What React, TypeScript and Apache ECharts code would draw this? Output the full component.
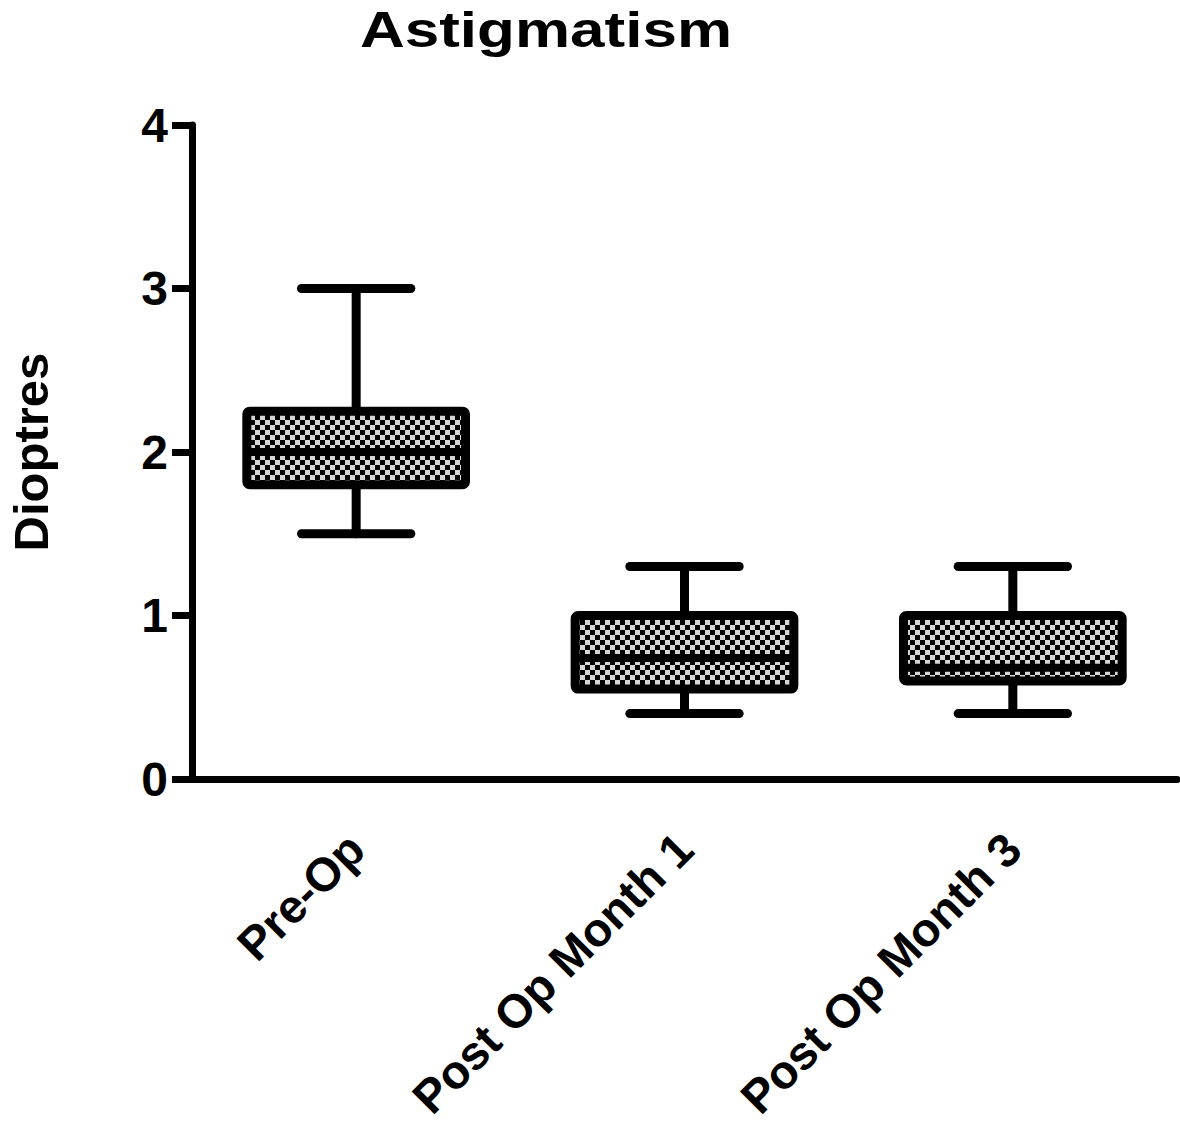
import React, { useEffect, useRef } from 'react';
import * as echarts from 'echarts';

const categories = ['Pre-Op', 'Post Op Month 1', 'Post Op Month 3'];
const whiskerMin = [1.5, 0.4, 0.4];
const quartile1 = [1.8, 0.55, 0.6];
const medianValues = [2.0, 0.74, 0.68];
const quartile3 = [2.25, 1.0, 1.0];
const whiskerMax = [3.0, 1.3, 1.3];
const yMin = 0;
const yMax = 4;
const yInterval = 1;

const FONT = '"Liberation Sans", Arial, sans-serif';

export default function App() {
  const ref = useRef<HTMLDivElement>(null);
  useEffect(() => {
    const chart = echarts.init(ref.current!, null, { renderer: 'svg' });
    const cv = document.createElement('canvas');
    cv.width = 10;
    cv.height = 10;
    const ctx = cv.getContext('2d')!;
    ctx.fillStyle = '#d6d6d6';
    ctx.fillRect(0, 0, 10, 10);
    ctx.fillStyle = '#000';
    ctx.fillRect(0, 0, 5, 5);
    ctx.fillRect(5, 5, 5, 5);
    const pattern = { image: cv, repeat: 'repeat', imageWidth: 10, imageHeight: 10 };

    const data = categories.map((_, i) => [
      i, whiskerMin[i], quartile1[i], medianValues[i], quartile3[i], whiskerMax[i],
    ]);
    const SW = 9;

    chart.setOption({
      animation: false,
      grid: { left: 192, right: 3, top: 125, bottom: 349, containLabel: false, outerBoundsMode: 'none' },
      graphic: [
        {
          type: 'text',
          x: 546,
          y: 30,
          scaleX: 1.24,
          style: {
            text: 'Astigmatism',
            fontSize: 50,
            fontWeight: 'bold',
            fontFamily: FONT,
            fill: '#000',
            align: 'center',
            verticalAlign: 'middle',
          },
        },
      ],
      xAxis: {
        type: 'category',
        data: categories,
        axisLine: { lineStyle: { color: '#000', width: 7 } },
        axisTick: { alignWithLabel: true, length: 20, lineStyle: { color: '#000', width: 7 } },
        axisLabel: {
          rotate: 45,
          margin: 62,
          interval: 0,
          fontSize: 47,
          lineHeight: 47,
          fontWeight: 'bold',
          fontFamily: FONT,
          color: '#000',
        },
        splitLine: { show: false },
      },
      yAxis: {
        type: 'value',
        min: yMin,
        max: yMax,
        interval: yInterval,
        name: 'Dioptres',
        nameLocation: 'middle',
        nameGap: 137,
        nameRotate: 90,
        nameTextStyle: { fontSize: 49, lineHeight: 49, fontWeight: 'bold', fontFamily: FONT, color: '#000' },
        axisLine: { show: true, lineStyle: { color: '#000', width: 7 } },
        axisTick: { show: true, length: 20, lineStyle: { color: '#000', width: 7 } },
        axisLabel: { margin: 24, fontSize: 48, fontWeight: 'bold', fontFamily: FONT, color: '#000' },
        splitLine: { show: false },
      },
      series: [
        {
          type: 'custom',
          clip: false,
          data,
          encode: { x: 0, y: [1, 2, 3, 4, 5] },
          renderItem: (params: any, api: any) => {
            const idx = api.value(0);
            const cx = api.coord([idx, 0])[0];
            const band = api.size([1, 0])[0];
            const half = band * 0.333;
            const capHalf = half * 0.5;
            const pMin = api.coord([idx, api.value(1)])[1];
            const pQ1 = api.coord([idx, api.value(2)])[1];
            const pMed = api.coord([idx, api.value(3)])[1];
            const pQ3 = api.coord([idx, api.value(4)])[1];
            const pMax = api.coord([idx, api.value(5)])[1];
            const ls = { stroke: '#000', lineWidth: SW, lineCap: 'round' };
            return {
              type: 'group',
              children: [
                { type: 'line', shape: { x1: cx, y1: pMax, x2: cx, y2: pQ3 }, style: ls },
                { type: 'line', shape: { x1: cx, y1: pQ1, x2: cx, y2: pMin }, style: ls },
                { type: 'line', shape: { x1: cx - capHalf, y1: pMax, x2: cx + capHalf, y2: pMax }, style: ls },
                { type: 'line', shape: { x1: cx - capHalf, y1: pMin, x2: cx + capHalf, y2: pMin }, style: ls },
                {
                  type: 'rect',
                  shape: { x: cx - half, y: pQ3, width: half * 2, height: pQ1 - pQ3, r: 3 },
                  style: { fill: pattern, stroke: '#000', lineWidth: SW, lineJoin: 'round' },
                },
                {
                  type: 'line',
                  shape: { x1: cx - half, y1: pMed, x2: cx + half, y2: pMed },
                  style: { stroke: '#000', lineWidth: 8 },
                },
              ],
            };
          },
        },
      ],
    });
    return () => chart.dispose();
  }, []);
  return (
    <div
      ref={ref}
      style={{ position: 'absolute', left: 0, top: 0, width: 1180, height: 1128, background: '#fff' }}
    />
  );
}
